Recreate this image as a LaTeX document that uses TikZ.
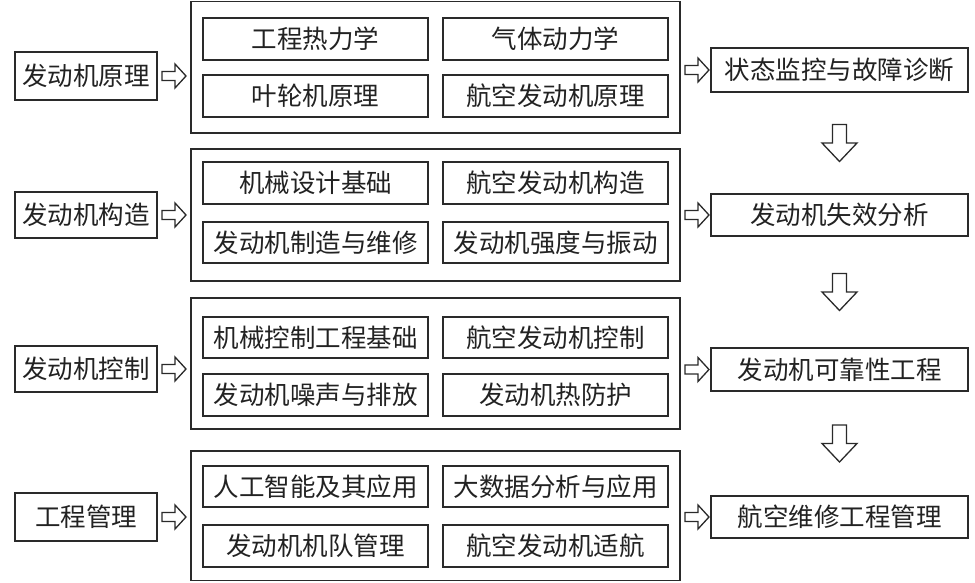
\documentclass[tikz,border=0pt]{standalone}
\usepackage{fontspec}
\newfontfamily\cjk{Noto Sans CJK SC}
\usetikzlibrary{calc}
\definecolor{linec}{HTML}{2A2A2A}
\definecolor{textc}{HTML}{222222}
\tikzset{
  box/.style={draw=linec, line width=1.4pt, inner sep=0pt, fill=white,
    font=\cjk\fontsize{25.5}{26}\selectfont, text=textc},
  arrowline/.style={draw=linec, line width=1.3pt, fill=white, line join=miter},
  rarr/.pic={\path[arrowline] (-12,-4.5) -- (1,-4.5) -- (1,-12) -- (12,0) -- (1,12) -- (1,4.5) -- (-12,4.5) -- cycle;},
  darr/.pic={\path[arrowline] (-7,-18.5) -- (7,-18.5) -- (7,0) -- (17.5,0) -- (0,18.5) -- (-17.5,0) -- (-7,0) -- (-7,-18.5) -- cycle;}
}
% \bx{name}{x1}{y1}{x2}{y2}{text}
\newcommand{\bx}[6]{\node[box, minimum width={(#4-#2)*1pt}, minimum height={(#5-#3)*1pt}] (#1) at ({(#2+#4)/2},{(#3+#5)/2}) {#6};}
\begin{document}
\begin{tikzpicture}[x=1pt,y=-1pt]
\useasboundingbox[fill=white] (0,0) rectangle (975,582);
% group boxes
\bx{g1}{191}{1.5}{680}{133}{}
\bx{g2}{191}{149}{680}{281}{}
\bx{g3}{191}{298}{680}{429}{}
\bx{g4}{191}{451}{680}{580.5}{}
% left boxes
\bx{l1}{15}{52}{157}{100}{发动机原理}
\bx{l2}{15}{192}{157}{238}{发动机构造}
\bx{l3}{15}{346}{157}{392}{发动机控制}
\bx{l4}{15}{493}{157}{541}{工程管理}
% inner boxes
\bx{a1}{203}{18}{428}{60}{工程热力学}
\bx{a2}{443}{18}{668}{60}{气体动力学}
\bx{a3}{203}{75}{428}{117}{叶轮机原理}
\bx{a4}{443}{75}{668}{117}{航空发动机原理}
\bx{b1}{203}{162}{428}{204}{机械设计基础}
\bx{b2}{443}{162}{668}{204}{航空发动机构造}
\bx{b3}{203}{222}{428}{263}{发动机制造与维修}
\bx{b4}{443}{222}{668}{263}{发动机强度与振动}
\bx{c1}{203}{317}{428}{358}{机械控制工程基础}
\bx{c2}{443}{317}{668}{358}{航空发动机控制}
\bx{c3}{203}{374}{428}{416}{发动机噪声与排放}
\bx{c4}{443}{374}{668}{416}{发动机热防护}
\bx{d1}{203}{466}{428}{507}{人工智能及其应用}
\bx{d2}{443}{466}{668}{507}{大数据分析与应用}
\bx{d3}{203}{525}{428}{567}{发动机机队管理}
\bx{d4}{443}{525}{668}{567}{航空发动机适航}
% right boxes
\bx{r1}{711}{48}{968}{92}{状态监控与故障诊断}
\bx{r2}{711}{194}{968}{236}{发动机失效分析}
\bx{r3}{711}{348}{968}{391}{发动机可靠性工程}
\bx{r4}{711}{496}{968}{538}{航空维修工程管理}
% left arrows
\foreach \i/\g in {l1/g1,l2/g2,l3/g3,l4/g4}{
  \pic at ($(\i.east)!0.5!(\i.east -| \g.west)$) {rarr};
}
% right arrows
\foreach \i/\g in {r1/g1,r2/g2,r3/g3,r4/g4}{
  \pic at ($(\i.west -| \g.east)!0.55!(\i.west)$) {rarr};
}
% down arrows
\foreach \a/\b in {r1/r2,r2/r3,r3/r4}{
  \pic at ($(\a.south)!0.5!(\b.north)$) {darr};
}
\end{tikzpicture}
\end{document}
